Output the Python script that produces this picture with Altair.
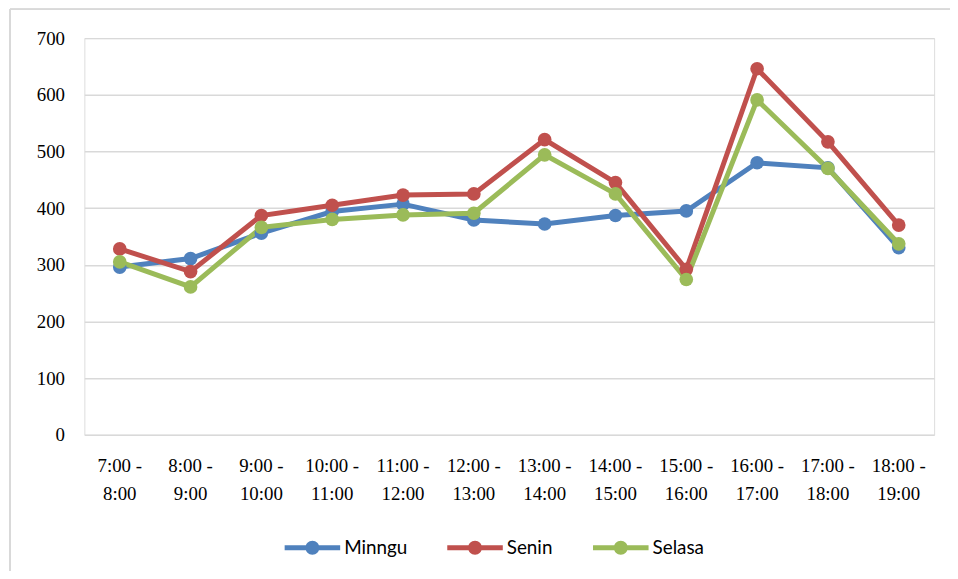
import altair as alt
import pandas as pd

categories = ["7:00 - 8:00", "8:00 - 9:00", "9:00 - 10:00", "10:00 - 11:00",
              "11:00 - 12:00", "12:00 - 13:00", "13:00 - 14:00", "14:00 - 15:00",
              "15:00 - 16:00", "16:00 - 17:00", "17:00 - 18:00", "18:00 - 19:00"]
minngu = [296, 311, 356, 394, 407, 379, 372, 387, 395, 480, 471, 330]
senin = [328, 288, 387, 405, 423, 425, 521, 445, 292, 646, 517, 370]
selasa = [305, 261, 366, 380, 388, 391, 494, 425, 274, 591, 470, 337]
series = ["Minngu", "Senin", "Selasa"]
colors = ["#4f81bd", "#c0504d", "#9bbb59"]

rows = []
for name, vals in zip(series, [minngu, senin, selasa]):
    for c, v in zip(categories, vals):
        rows.append({"Waktu": c, "Hari": name, "Nilai": v})
df = pd.DataFrame(rows)

W, H = 857, 400
SERIF = "serif"

legend_path = ("M-1,-0.09L1,-0.09L1,0.09L-1,0.09Z "
               "M0.25,0A0.25,0.25 0 1,1 -0.25,0A0.25,0.25 0 1,1 0.25,0Z")

x = alt.X("Waktu:N", sort=categories, title=None, bandPosition=0.5,
          scale=alt.Scale(type="band", paddingInner=0, paddingOuter=0),
          axis=alt.Axis(labelAngle=0, labelFontSize=19, labelFont=SERIF,
                        labelColor="#000000", ticks=False, domain=False, grid=False,
                        labelPadding=22, labelLineHeight=28,
                        labelExpr="[split(datum.label, ' - ')[0] + ' -', split(datum.label, ' - ')[1]]"))
y = alt.Y("Nilai:Q", title=None,
          scale=alt.Scale(domain=[0, 700], nice=False),
          axis=alt.Axis(values=[0, 100, 200, 300, 400, 500, 600, 700],
                        labelFontSize=19, labelColor="#000000", labelFont=SERIF,
                        ticks=False, domain=False, grid=True, gridColor="#d9d9d9",
                        gridWidth=1.5, labelPadding=20))
color = alt.Color("Hari:N", sort=series,
                  scale=alt.Scale(domain=series, range=colors),
                  legend=alt.Legend(title=None, orient="none", direction="horizontal",
                                    legendX=202, legendY=486,
                                    symbolType=legend_path, symbolSize=3136,
                                    symbolStrokeWidth=0, symbolOpacity=1,
                                    labelFontSize=19, labelColor="#000000", labelFont="Lato",
                                    labelOffset=4, columnPadding=40))

lines = alt.Chart(df).mark_line(strokeWidth=5).encode(
    x=x, y=y, color=color
)
points = alt.Chart(df).mark_point(filled=True, size=190, opacity=1).encode(
    x=x, y=y, color=color
)

border_left = alt.Chart(df).mark_rule(color="#d9d9d9", strokeWidth=1.5, clip=False).encode(
    x=alt.value(-75), y=alt.value(-29), y2=alt.value(H + 200)
)
border_top = alt.Chart(df).mark_rule(color="#d9d9d9", strokeWidth=1.5, clip=False).encode(
    x=alt.value(-75), x2=alt.value(W + 40), y=alt.value(-29)
)

chart = alt.layer(border_left, border_top, lines, points).properties(
    width=W, height=H,
    autosize=alt.AutoSizeParams(type="none"),
    padding={"left": 77, "top": 28, "right": 16, "bottom": 135},
).configure_view(stroke=None).configure(
    background="white", font="Liberation Serif"
)

chart.save("out.html", embed_options={"renderer": "svg", "actions": False})
